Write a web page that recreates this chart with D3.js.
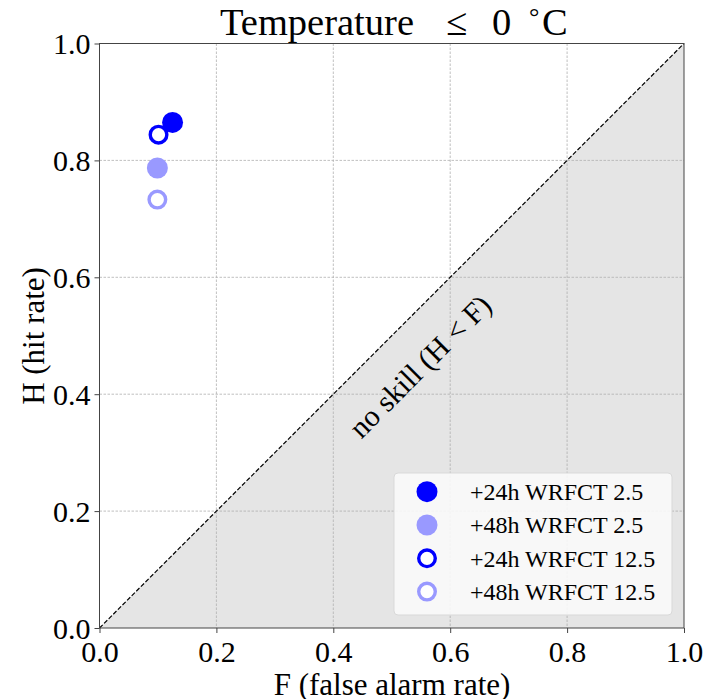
<!DOCTYPE html>
<html>
<head>
<meta charset="utf-8">
<script src="https://cdn.jsdelivr.net/npm/d3@7"></script>
<style>
  html, body { margin: 0; padding: 0; background: #fff; }
  svg { display: block; font-family: "Liberation Serif", "Times New Roman", serif; }
</style>
</head>
<body>
<svg id="chart" width="708" height="699"></svg>
<script>
// Forecast verification points: false alarm rate (F) vs hit rate (H)
const seriesNames = ["+24h WRFCT 2.5", "+48h WRFCT 2.5", "+24h WRFCT 12.5", "+48h WRFCT 12.5"];
const falseAlarm = [0.125, 0.099, 0.101, 0.099];
const hitRate = [0.865, 0.787, 0.844, 0.733];
const seriesColor = ["#0000ff", "#9999ff", "#0000ff", "#9999ff"];
const seriesFilled = [true, true, false, false];
const tickValues = [0.0, 0.2, 0.4, 0.6, 0.8, 1.0];

const svg = d3.select("#chart");
const plotL = 99.5, plotR = 684, plotT = 43.5, plotB = 628;

const x = d3.scaleLinear().domain([0, 1]).range([plotL, plotR]);
const y = d3.scaleLinear().domain([0, 1]).range([plotB, plotT]);

// shaded no-skill region below the diagonal
svg.append("path")
  .attr("d", d3.line().x(d => x(d[0])).y(d => y(d[1]))([[0, 0], [1, 1], [1, 0]]))
  .attr("fill", "#e5e5e5");

// grid
const grid = svg.append("g");
grid.selectAll(".gx").data(tickValues.slice(1, -1)).join("line")
  .attr("x1", d => x(d)).attr("x2", d => x(d))
  .attr("y1", plotT).attr("y2", plotB)
  .attr("stroke", "#b0b0b0").attr("stroke-width", 0.8).attr("stroke-dasharray", "2.5,1.5");
grid.selectAll(".gy").data(tickValues.slice(1, -1)).join("line")
  .attr("y1", d => y(d)).attr("y2", d => y(d))
  .attr("x1", plotL).attr("x2", plotR)
  .attr("stroke", "#b0b0b0").attr("stroke-width", 0.8).attr("stroke-dasharray", "2.5,1.5");

// diagonal
svg.append("line")
  .attr("x1", x(0)).attr("y1", y(0)).attr("x2", x(1)).attr("y2", y(1))
  .attr("stroke", "#000").attr("stroke-width", 1.2).attr("stroke-dasharray", "4.5,2");

// no-skill annotation
svg.append("text")
  .attr("transform", `translate(${x(0.548)},${y(0.448)}) rotate(-45)`)
  .attr("text-anchor", "middle")
  .attr("dominant-baseline", "central")
  .attr("font-size", 30)
  .attr("fill", "#000")
  .text("no skill (H < F)");

// axes
const xAxis = d3.axisBottom(x).tickValues(tickValues).tickFormat(d3.format(".1f")).tickSizeOuter(0).tickSize(5);
const yAxis = d3.axisLeft(y).tickValues(tickValues).tickFormat(d3.format(".1f")).tickSizeOuter(0).tickSize(5);

const gx = svg.append("g").attr("transform", `translate(0,${plotB})`).call(xAxis);
const gy = svg.append("g").attr("transform", `translate(${plotL},0)`).call(yAxis);
[gx, gy].forEach(g => {
  g.select(".domain").remove();
  g.selectAll("line").attr("stroke", "#444").attr("stroke-width", 1);
  g.selectAll("text").attr("font-size", 30).attr("fill", "#000")
    .attr("font-family", "Liberation Serif, Times New Roman, serif");
});
gx.selectAll("text").attr("dy", 0).attr("y", 34);
gy.selectAll("text").attr("x", -9).attr("dy", "0.34em");

// frame
svg.append("rect")
  .attr("x", plotL).attr("y", plotT).attr("width", plotR - plotL).attr("height", plotB - plotT)
  .attr("fill", "none").attr("stroke", "#444").attr("stroke-width", 1);

// markers
const pts = seriesNames.map((n, i) => ({ n, f: falseAlarm[i], h: hitRate[i], c: seriesColor[i], filled: seriesFilled[i] }));
svg.append("g").selectAll("circle").data(pts).join("circle")
  .attr("cx", d => x(d.f)).attr("cy", d => y(d.h))
  .attr("r", d => d.filled ? 10.5 : 8.3)
  .attr("fill", d => d.filled ? d.c : "#fff")
  .attr("stroke", d => d.filled ? "none" : d.c)
  .attr("stroke-width", d => d.filled ? 0 : 3.4);

// legend
const lg = svg.append("g").attr("transform", "translate(394,473)");
lg.append("rect").attr("width", 278).attr("height", 142).attr("rx", 4)
  .attr("fill", "#fafafa").attr("fill-opacity", 0.9)
  .attr("stroke", "#d9d9d9").attr("stroke-width", 1);
const rows = lg.selectAll(".row").data(pts).join("g")
  .attr("transform", (d, i) => `translate(0,${18.7 + i * 33.3})`);
rows.append("circle").attr("cx", 33)
  .attr("r", d => d.filled ? 10.5 : 8.3)
  .attr("fill", d => d.filled ? d.c : "#fff")
  .attr("stroke", d => d.filled ? "none" : d.c)
  .attr("stroke-width", d => d.filled ? 0 : 3.4);
rows.append("text").attr("x", 76).attr("dy", "0.35em")
  .attr("font-size", 24).attr("fill", "#000").text(d => d.n);

// title with math-style spacing
const title = svg.append("text").attr("y", 35).attr("font-size", 38.5).attr("fill", "#000");
title.append("tspan").attr("x", 220).text("Temperature");
title.append("tspan").attr("x", 446).text("≤");
title.append("tspan").attr("x", 492).text("0");
title.append("tspan").attr("x", 529).attr("dy", -10).attr("font-size", 26).text("°");
title.append("tspan").attr("x", 542).attr("dy", 10).text("C");

svg.append("text").attr("x", 392).attr("y", 695).attr("text-anchor", "middle")
  .attr("font-size", 31).attr("fill", "#000").text("F (false alarm rate)");

svg.append("text").attr("transform", "translate(44,336) rotate(-90)")
  .attr("text-anchor", "middle").attr("font-size", 31).attr("fill", "#000").text("H (hit rate)");
</script>
</body>
</html>
